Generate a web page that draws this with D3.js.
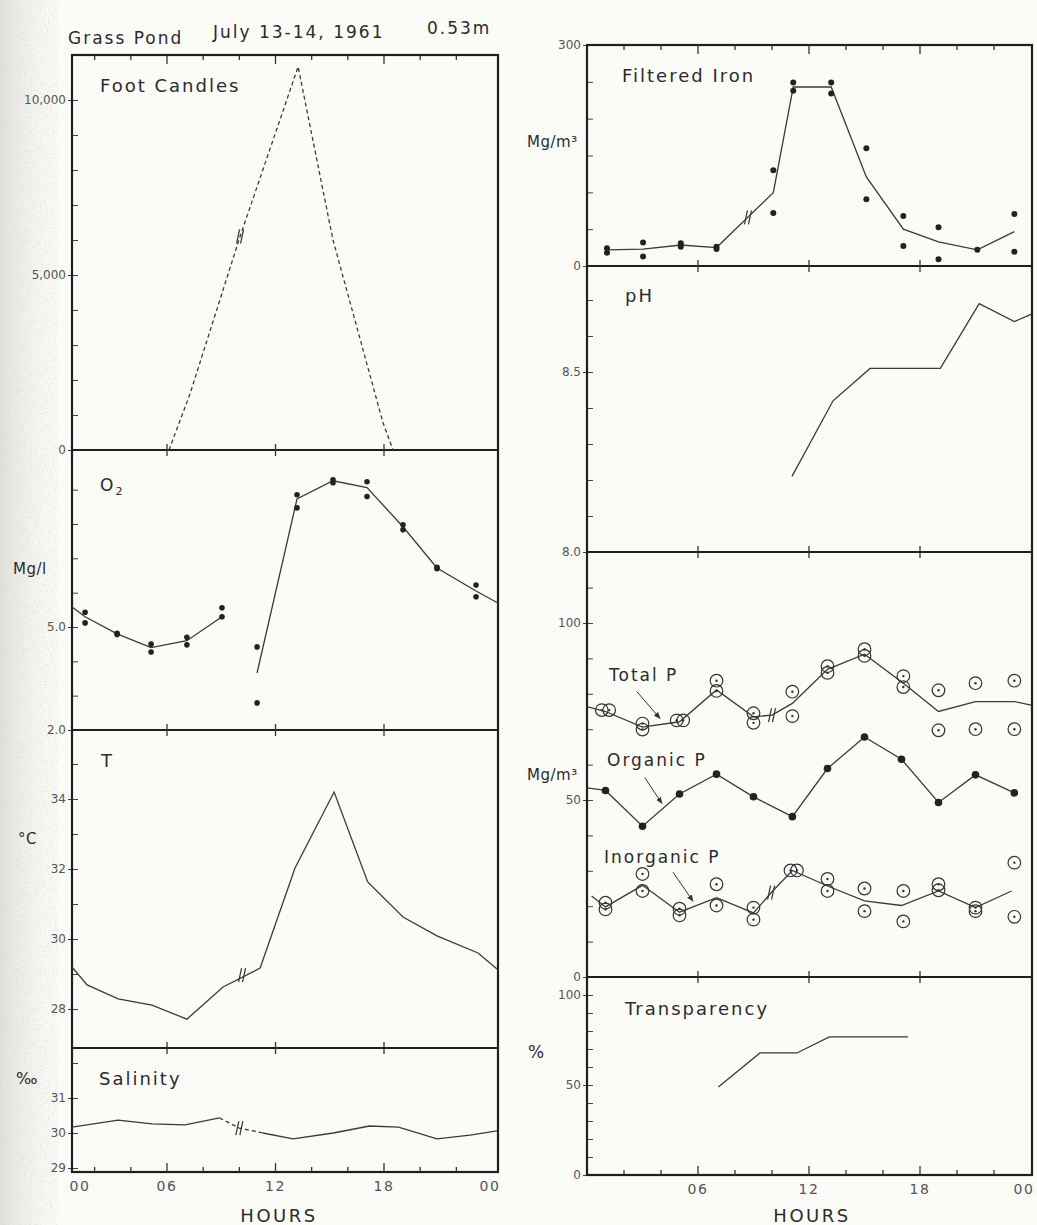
<!DOCTYPE html>
<html>
<head>
<meta charset="utf-8">
<script src="https://cdn.jsdelivr.net/npm/d3@7"></script>
<style>
  body { margin: 0; background: #fbfbf8; }
  svg text { font-family: "DejaVu Sans", "Liberation Sans", sans-serif; fill: #2b2b2b; }
  .tick text { fill: #555; font-size: 12px; }
  .lbl { font-size: 18px; letter-spacing: 2px; }
  .unit { letter-spacing: 0.5px; }
</style>
</head>
<body>
<div id="chart"></div>
<script>
// ---- data (hours, values) ----
const hourMajor = [6, 12, 18];
const hourMinor = d3.range(2, 24, 2);

// foot candles (dashed line)
const fcHours  = [6.11, 7.27, 10.04, 13.25, 15.18, 17.95, 18.5];
const fcValues = [0, 1600, 6100, 10950, 6000, 770, 0];
const fcBreak  = [10.04, 6100];

// O2, mg/l: two replicate dots per sample and a fitted line
const o2Hours = [1.47, 3.24, 5.12, 7.1, 9.04, 10.98, 13.19, 15.18, 17.06, 19.05, 20.93, 23.09];
const o2DotsA = [5.43, 4.82, 4.5, 4.7, 5.56, 4.42, 8.85, 9.29, 9.23, 7.98, 6.74, 6.22];
const o2DotsB = [5.12, 4.78, 4.27, 4.48, 5.3, 2.79, 8.47, 9.2, 8.8, 7.83, 6.7, 5.88];
const o2LineHours  = [0.75, 1.47, 3.24, 5.12, 7.1, 9.04, 9.5, 10.98, 13.19, 15.18, 17.06, 19.05, 20.93, 23.09, 24.3];
const o2LineValues = [5.58, 5.3, 4.8, 4.4, 4.6, 5.3, null, 3.66, 8.73, 9.26, 9.06, 7.92, 6.72, 6.05, 5.7];

// temperature, deg C
const tHours  = [0.75, 1.58, 3.3, 5.17, 7.1, 9.1, 11.15, 13.08, 15.24, 17.1, 19.05, 20.93, 23.2, 24.25];
const tValues = [29.2, 28.69, 28.29, 28.11, 27.71, 28.63, 29.17, 32.03, 34.2, 31.63, 30.63, 30.09, 29.6, 29.14];
const tBreak  = [10.15, 28.97];

// salinity, per mille
const salHours  = [0.75, 3.3, 5.17, 7.0, 8.9, 10.0, 11.3, 12.97, 15.2, 17.2, 18.8, 20.93, 22.76, 24.25];
const salValues = [30.17, 30.37, 30.26, 30.23, 30.43, 30.14, 30.0, 29.83, 30.0, 30.2, 30.17, 29.83, 29.94, 30.06];
const salDashed = [8.9, 11.3];
const salBreak  = [10.0, 30.14];

// filtered iron, mg/m3
const ironHours  = [1.08, 3.03, 5.07, 7.0, 10.07, 11.15, 13.2, 15.1, 17.1, 19.0, 21.1, 23.1];
const ironDotsA  = [24, 32, 31, 26, 130, 249, 249, 160, 68, 52.5, 22, 70.6];
const ironDotsB  = [18, 13, 26, 23, 72, 238, 234, 90.5, 27, 9, null, 19.5];
const ironLine   = [22, 23, 28.5, 25, 99.5, 243, 243, 121, 50, 32.6, 22, 46.6];
const ironBreak  = [8.7, 66];

// pH
const phHours  = [11.08, 13.3, 15.3, 19.1, 21.2, 23.1, 24.0];
const phValues = [8.21, 8.42, 8.51, 8.51, 8.69, 8.64, 8.66];

// phosphorus, mg/m3  ([hour, value])
const totalPDots = [[0.8,75.4],[1.2,75.4],[3.0,71.6],[3.0,69.9],[4.85,72.5],[5.2,72.5],[7.0,83.7],[7.0,80.8],
  [9.0,74.5],[9.0,71.8],[11.1,80.6],[11.1,73.7],[13.0,87.8],[13.0,85.9],[15.0,92.6],[15.0,90.7],
  [17.1,85.0],[17.1,81.9],[19.0,81.0],[19.0,69.7],[21.0,83.0],[21.0,70.0],[23.1,83.7],[23.1,70.0]];
const totalPLine = [[0,76.4],[1,75.0],[3,70.6],[5,72.1],[7,81.1],[9,73.5],[10,74.0],[11.1,77.3],[13,86.9],
  [15,91.2],[17.1,83.0],[19,75.0],[21,77.8],[23.1,77.8],[24,76.8]];
const totalPBreak = [10, 74.0];

const organicPHours  = [0, 1.0, 3.0, 5.0, 7.0, 9.0, 11.1, 13.0, 15.0, 17.0, 19.0, 21.0, 23.1];
const organicPValues = [53.4, 52.7, 42.6, 51.7, 57.3, 50.9, 45.3, 58.9, 67.8, 61.5, 49.3, 57.1, 52.0];

const inorgPDots = [[1.0,21.0],[1.0,19.1],[3.0,29.1],[3.0,24.3],[5.0,19.3],[5.0,17.4],[7.0,26.2],[7.0,20.2],
  [9.0,19.6],[9.0,16.2],[11.0,30.1],[11.35,30.1],[13.0,27.7],[13.0,24.3],[15.0,25.0],[15.0,18.6],
  [17.1,24.3],[17.1,15.7],[19.0,26.2],[19.0,24.5],[21.0,19.6],[21.0,18.6],[23.1,32.3],[23.1,17.0]];
const inorgPLine = [[0.25,22.9],[1,19.8],[3,25.9],[5,18.3],[7,22.4],[9,18.1],[9.95,23.8],[11.1,30.1],
  [13,25.7],[15,21.5],[17,20.2],[19,24.3],[21,19.6],[22.95,24.3]];
const inorgPBreak = [9.95, 23.8];

// transparency, %
const transHours  = [7.1, 9.35, 11.35, 13.1, 17.35];
const transValues = [48.9, 67.8, 67.8, 76.7, 76.7];

// ---- layout ----
const W = 1037, H = 1225;
const ink = "#3a3a3a", frameInk = "#1f1f1f";

const svg = d3.select("#chart").append("svg")
  .attr("width", W).attr("height", H);

// paper tone and grain on the scanned left margin
const defs = svg.append("defs");
const grad = defs.append("linearGradient").attr("id", "margin-tone");
grad.append("stop").attr("offset", "0%").attr("stop-color", "#d9d9d3").attr("stop-opacity", 0.8);
grad.append("stop").attr("offset", "100%").attr("stop-color", "#fbfbf8").attr("stop-opacity", 0);
svg.append("rect").attr("x", 0).attr("y", 0).attr("width", 70).attr("height", H)
  .attr("fill", "url(#margin-tone)");
const grain = defs.append("filter").attr("id", "grain")
  .attr("x", 0).attr("y", 0).attr("width", "100%").attr("height", "100%");
grain.append("feTurbulence").attr("type", "fractalNoise").attr("baseFrequency", 0.7)
  .attr("numOctaves", 2).attr("seed", 4);
grain.append("feColorMatrix").attr("type", "matrix")
  .attr("values", "0 0 0 0 0.62  0 0 0 0 0.62  0 0 0 0 0.58  0 0 0 2.2 -1.05");
svg.append("rect").attr("x", 0).attr("y", 0).attr("width", 58).attr("height", H)
  .attr("filter", "url(#grain)").attr("opacity", 0.6);

const colL = { x0: 72, x1: 498, x: d3.scaleLinear([0, 24], [58.5, 492.5]) };
const colR = { x0: 587, x1: 1032, x: d3.scaleLinear([0, 24], [587, 1031]) };

const panels = {
  fc:    { col: colL, top: 55,  bottom: 450,  y: d3.scaleLinear([0, 10000], [450, 100]),
           labels: [0, 5000, 10000], fmt: d3.format(","), minor: d3.range(1000, 10001, 1000) },
  o2:    { col: colL, top: 450, bottom: 730,  y: d3.scaleLinear([2, 5], [730, 627]),
           labels: [2, 5], fmt: d3.format(".1f"), minor: d3.range(3, 10, 1) },
  t:     { col: colL, top: 730, bottom: 1048, y: d3.scaleLinear([28, 34], [1009, 799]),
           labels: [28, 30, 32, 34], fmt: d3.format("d"), minor: [29, 31, 33, 35] },
  sal:   { col: colL, top: 1048, bottom: 1172, y: d3.scaleLinear([29, 31], [1168, 1098]),
           labels: [29, 30, 31], fmt: d3.format("d"), minor: [32] },
  iron:  { col: colR, top: 45,  bottom: 266,  y: d3.scaleLinear([0, 300], [266, 45]),
           labels: [0, 300], fmt: d3.format("d"), minor: d3.range(50, 300, 50) },
  ph:    { col: colR, top: 266, bottom: 552,  y: d3.scaleLinear([8.0, 8.5], [552, 372]),
           labels: [8.0, 8.5], fmt: d3.format(".1f"), minor: [8.1, 8.2, 8.3, 8.4, 8.6, 8.7] },
  p:     { col: colR, top: 552, bottom: 977,  y: d3.scaleLinear([0, 100], [977, 623]),
           labels: [0, 50, 100], fmt: d3.format("d"), minor: d3.range(10, 120, 10) },
  trans: { col: colR, top: 977, bottom: 1175, y: d3.scaleLinear([0, 100], [1175, 995]),
           labels: [0, 50, 100], fmt: d3.format("d"), minor: d3.range(10, 100, 10) }
};

// y axes: labelled ticks cross the frame, minor ticks point inward
Object.values(panels).forEach(p => {
  const x0 = p.col.x0;
  svg.append("g").attr("transform", `translate(${x0},0)`)
    .call(d3.axisLeft(p.y).tickValues(p.labels).tickFormat(p.fmt).tickSize(4).tickPadding(2))
    .call(g => g.select(".domain").remove())
    .call(g => g.selectAll(".tick line").attr("stroke", "#444"));
  svg.append("g").attr("transform", `translate(${x0},0)`)
    .call(d3.axisLeft(p.y).tickValues(p.minor.concat(p.labels)).tickFormat("").tickSize(-6))
    .call(g => g.select(".domain").remove())
    .call(g => g.selectAll(".tick line").attr("stroke", "#444"));
});

// frames and hour ticks on every panel border
function hourTicks(col, yPos, kind) {
  const vals = kind === "mid" ? hourMajor : hourMinor;
  svg.append("g").selectAll("line").data(vals).join("line")
    .attr("x1", d => col.x(d)).attr("x2", d => col.x(d))
    .attr("y1", d => kind === "mid" ? yPos - 6 : yPos)
    .attr("y2", d => {
      const len = hourMajor.includes(d) ? 9 : 5;
      return kind === "top" ? yPos + len : kind === "bottom" ? yPos - len : yPos + 6;
    })
    .attr("stroke", "#333").attr("stroke-width", 1.3);
}

[["fc", "o2", "t", "sal"], ["iron", "ph", "p", "trans"]].forEach(ids => {
  const col = panels[ids[0]].col;
  const top = panels[ids[0]].top, bottom = panels[ids[ids.length - 1]].bottom;
  svg.append("rect")
    .attr("x", col.x0).attr("y", top)
    .attr("width", col.x1 - col.x0).attr("height", bottom - top)
    .attr("fill", "none").attr("stroke", frameInk).attr("stroke-width", 2.2);
  ids.slice(1).forEach(id => {
    svg.append("line")
      .attr("x1", col.x0).attr("x2", col.x1)
      .attr("y1", panels[id].top).attr("y2", panels[id].top)
      .attr("stroke", frameInk).attr("stroke-width", 2.2);
    hourTicks(col, panels[id].top, "mid");
  });
  hourTicks(col, top, "top");
  hourTicks(col, bottom, "bottom");
});

// hour labels under each column
function hourAxis(col, bottom, values, hoursX) {
  svg.append("g").attr("transform", `translate(0,${bottom})`)
    .call(d3.axisBottom(col.x).tickValues(values).tickSize(0).tickPadding(9)
      .tickFormat(d => d === 24 ? "00" : d3.format("02")(d)))
    .call(g => g.select(".domain").remove())
    .call(g => g.selectAll(".tick")
      .attr("transform", d => `translate(${Math.min(Math.max(col.x(d), col.x0 + 8), col.x1 - 8)},0)`))
    .call(g => g.selectAll(".tick text").style("font-size", "14px").style("letter-spacing", "1.5px"));
  svg.append("text").attr("x", hoursX).attr("y", 1222)
    .attr("text-anchor", "middle").style("font-size", "18px").style("letter-spacing", "2.5px")
    .text("HOURS");
}
hourAxis(colL, 1172, [0, 6, 12, 18, 24], 279);
hourAxis(colR, 1175, [6, 12, 18, 24], 812);

// ---- marks ----
function pairs(hs, vs) { return hs.map((h, i) => [h, vs[i]]); }

function drawLine(p, data, dash) {
  const line = d3.line()
    .defined(d => d[1] != null)
    .x(d => p.col.x(d[0])).y(d => p.y(d[1]));
  return svg.append("path").datum(data)
    .attr("d", line)
    .attr("fill", "none").attr("stroke", ink).attr("stroke-width", 1.3)
    .attr("stroke-dasharray", dash || null);
}

function drawDots(p, data, r) {
  svg.append("g").selectAll("circle").data(data.filter(d => d[1] != null)).join("circle")
    .attr("cx", d => p.col.x(d[0])).attr("cy", d => p.y(d[1]))
    .attr("r", r).attr("fill", "#222");
}

function drawRings(p, data) {
  const g = svg.append("g").selectAll("g").data(data).join("g")
    .attr("transform", d => `translate(${p.col.x(d[0])},${p.y(d[1])})`);
  g.append("circle").attr("r", 6.3).attr("fill", "none").attr("stroke", "#333").attr("stroke-width", 1.2);
  g.append("circle").attr("r", 1.2).attr("fill", "#333");
}

function drawBreak(p, b) {
  const cx = p.col.x(b[0]), cy = p.y(b[1]);
  [-2, 2].forEach(off => {
    svg.append("line")
      .attr("x1", cx + off - 1.5).attr("y1", cy + 7)
      .attr("x2", cx + off + 1.5).attr("y2", cy - 7)
      .attr("stroke", "#333").attr("stroke-width", 1.2);
  });
}

// foot candles
drawLine(panels.fc, pairs(fcHours, fcValues), "4 3");
drawBreak(panels.fc, fcBreak);

// O2
drawLine(panels.o2, pairs(o2LineHours, o2LineValues));
drawDots(panels.o2, pairs(o2Hours, o2DotsA), 2.8);
drawDots(panels.o2, pairs(o2Hours, o2DotsB), 2.8);

// T
drawLine(panels.t, pairs(tHours, tValues));
drawBreak(panels.t, tBreak);

// salinity: solid, with a dashed stretch around the break
const salData = pairs(salHours, salValues);
drawLine(panels.sal, salData.filter(d => d[0] <= salDashed[0]));
drawLine(panels.sal, salData.filter(d => d[0] >= salDashed[0] && d[0] <= salDashed[1]), "4 3");
drawLine(panels.sal, salData.filter(d => d[0] >= salDashed[1]));
drawBreak(panels.sal, salBreak);

// iron
drawLine(panels.iron, pairs(ironHours, ironLine));
drawDots(panels.iron, pairs(ironHours, ironDotsA), 3);
drawDots(panels.iron, pairs(ironHours, ironDotsB), 3);
drawBreak(panels.iron, ironBreak);

// pH
drawLine(panels.ph, pairs(phHours, phValues));

// phosphorus
drawLine(panels.p, totalPLine);
drawRings(panels.p, totalPDots);
drawBreak(panels.p, totalPBreak);
drawLine(panels.p, pairs(organicPHours, organicPValues));
drawDots(panels.p, pairs(organicPHours, organicPValues).slice(1), 3.8);
drawLine(panels.p, inorgPLine);
drawRings(panels.p, inorgPDots);
drawBreak(panels.p, inorgPBreak);

// transparency
drawLine(panels.trans, pairs(transHours, transValues));

// ---- text ----
function label(x, y, txt, size, cls) {
  return svg.append("text").attr("x", x).attr("y", y)
    .attr("class", cls || "lbl").style("font-size", size ? size + "px" : null).text(txt);
}

label(68, 44, "Grass Pond", 17);
label(213, 38, "July 13-14, 1961", 17);
label(427, 34, "0.53m", 17);

label(100, 92, "Foot Candles");
const o2t = label(100, 491, "O", 17);
o2t.append("tspan").attr("dy", 4).style("font-size", "11px").text("2");
label(101, 767, "T", 18);
label(99, 1085, "Salinity");
label(13, 574, "Mg/l", 15, "unit");
label(18, 844, "°C", 15, "unit");
label(16, 1084, "‰", 16, "unit");

label(622, 82, "Filtered Iron");
label(527, 147, "Mg/m³", 15, "unit");
label(625, 302, "pH");
label(527, 780, "Mg/m³", 15, "unit");
label(609, 681, "Total P", 17);
label(607, 766, "Organic P", 17);
label(604, 863, "Inorganic P", 17);
label(625, 1015, "Transparency");
label(528, 1058, "%", 17, "unit");

// arrows from the phosphorus labels
defs.append("marker").attr("id", "arrow").attr("viewBox", "0 0 10 10")
  .attr("refX", 9).attr("refY", 5).attr("markerWidth", 7).attr("markerHeight", 7)
  .attr("orient", "auto")
  .append("path").attr("d", "M0,1 L10,5 L0,9 Z").attr("fill", "#333");

const arrows = [
  [[2.7, 80.6], [3.95, 73.0]],
  [[3.13, 56.3], [4.05, 49.0]],
  [[4.65, 29.6], [5.73, 21.4]]
];
svg.append("g").selectAll("line").data(arrows).join("line")
  .attr("x1", d => colR.x(d[0][0])).attr("y1", d => panels.p.y(d[0][1]))
  .attr("x2", d => colR.x(d[1][0])).attr("y2", d => panels.p.y(d[1][1]))
  .attr("stroke", "#333").attr("stroke-width", 1)
  .attr("marker-end", "url(#arrow)");
</script>
</body>
</html>
